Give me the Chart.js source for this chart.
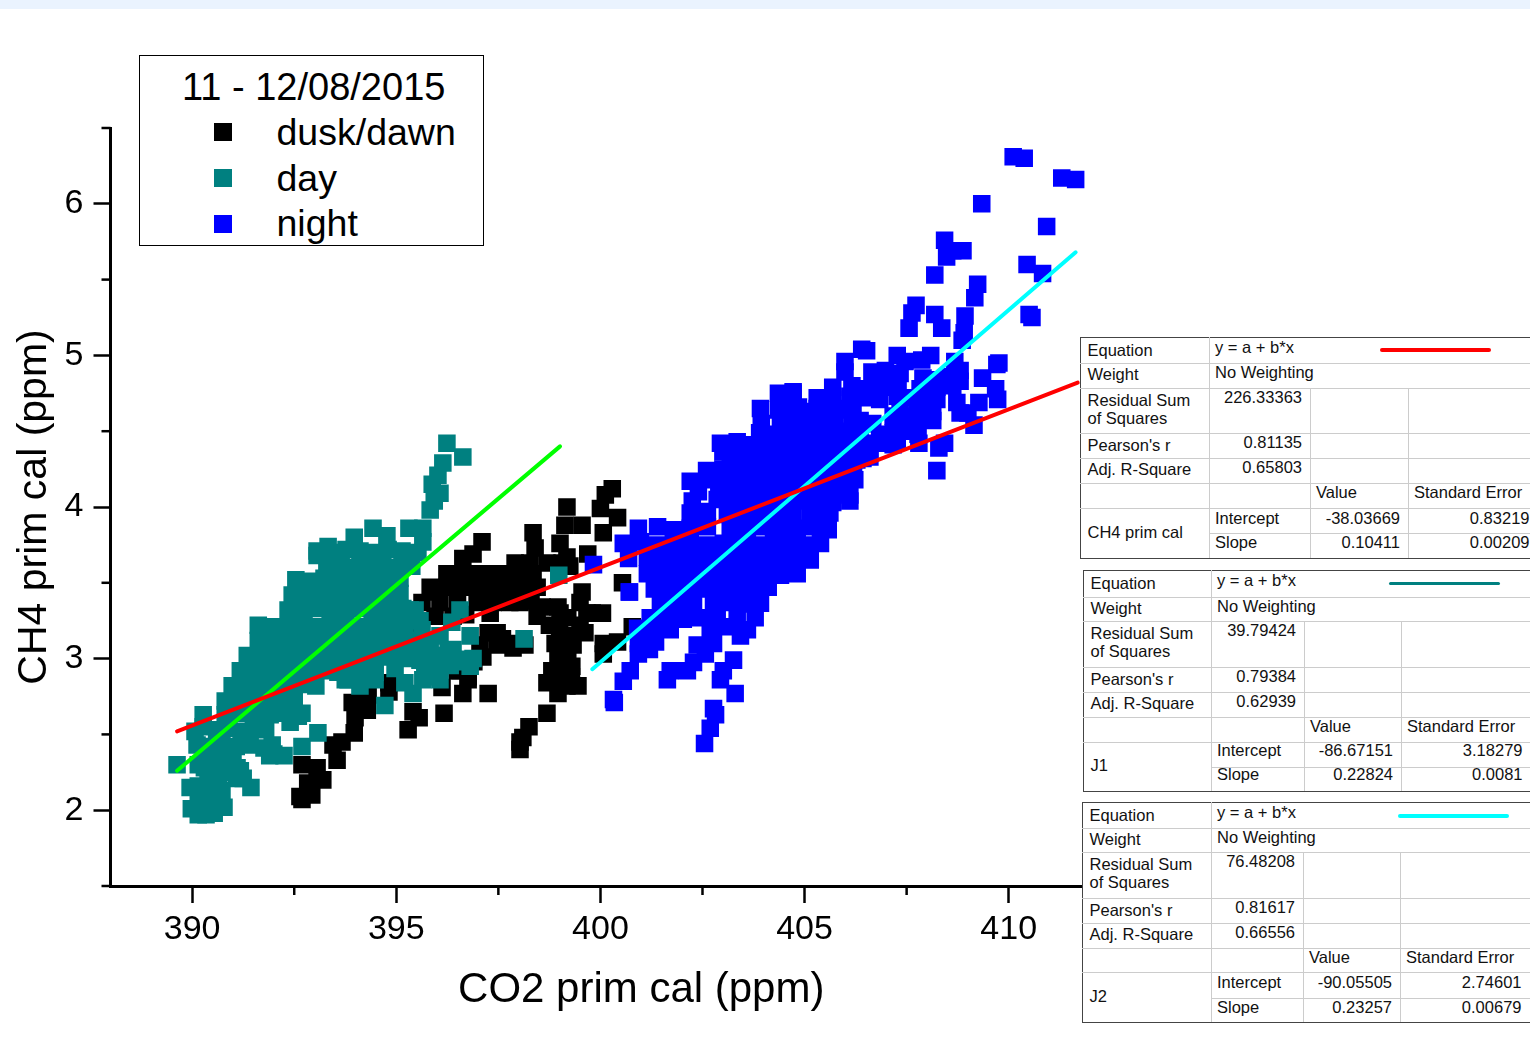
<!DOCTYPE html>
<html><head><meta charset="utf-8">
<script src="https://cdn.jsdelivr.net/npm/chart.js@4"></script>
<style>
html,body{margin:0;padding:0;background:#fff;width:1530px;height:1060px;overflow:hidden;font-family:"Liberation Sans",Arial,sans-serif;color:#000}
#band{position:absolute;left:0;top:0;width:1530px;height:9px;background:#EAF3FE}
#wrap{position:absolute;left:0;top:0;width:1530px;height:1060px}
#legendBox{position:absolute;left:139px;top:55px;width:343px;height:189px;border:1.4px solid #000;background:#fff}
.lg{position:absolute;font-size:37.5px;line-height:46px;white-space:nowrap}
.sw{position:absolute;width:18px;height:18px}
table.fit{position:absolute;border-collapse:collapse;table-layout:fixed;background:#fff;font-size:16.5px;line-height:18px;color:#111}
table.fit td{border:1.4px solid #ccc;padding:0 0 0 5px;vertical-align:top;white-space:nowrap;overflow:visible}
table.fit tr:first-child td{border-top:1.6px solid #444}
table.fit tr:last-child td{border-bottom:1.6px solid #444}
table.fit td:first-child{border-left:1.6px solid #444;padding-left:6.5px}
table.fit td.n{text-align:right;padding:0 8px 0 0}
table.fit td:last-child{border-right:none}
table.fit td.s{border-left:1.4px solid #ccc;padding-left:5px}
table.fit td.nm{vertical-align:middle;border-bottom:1.6px solid #444}
.smp{position:absolute;height:3.8px;border-radius:2px}
</style></head><body>
<div id="band"></div>
<div id="wrap"><canvas id="c" width="1530" height="1060" style="width:1530px;height:1060px;display:block"></canvas></div>
<div id="legendBox"></div>
<script>
const legendTitle = "11 - 12/08/2015";
const seriesNames = ["dusk/dawn","day","night"];
const seriesColors = ["#000000","#008080","#0000FF"];
const xTitle = "CO2 prim cal (ppm)";
const yTitle = "CH4 prim cal (ppm)";
const xTicks = [390,395,400,405,410];
const yTicks = [2,3,4,5,6];
const xMinorTicks = [392.5,397.5,402.5,407.5,412.5];
const yMinorTicks = [1.5,2.5,3.5,4.5,5.5,6.5];

const duskPoints = [
[392.64,2.09],[392.69,2.07],[392.93,2.10],[392.83,2.18],[393.2,2.2],[392.69,2.30],[393.06,2.28],[393.55,2.33],[393.45,2.43],[393.67,2.45],[393.97,2.51],[393.99,2.61],[393.92,2.71],[394.29,2.66],[394.31,2.76],[394.82,2.84],[394.82,2.78],
[395.41,2.65],[395.56,2.61],[395.29,2.53],[396.17,2.64],[397.25,2.77],[396.63,2.77],[396.12,2.81],[396.76,2.86],[396.49,2.92],[396.9,2.98],
[397.1,3.77],[398.35,3.83],[399.18,4.00],[400.29,4.12],[400.12,4.08],[400.0,3.99],[400.42,3.93],[400.07,3.83],[399.55,3.88],[399.13,3.88],[399.01,3.76],[398.4,3.73],[399.69,3.69],[399.18,3.67],[399.25,3.61],
[396.63,3.66],[396.88,3.69],[396.24,3.56],[396.56,3.56],[396.88,3.56],[397.25,3.56],[397.61,3.56],[397.98,3.56],[398.35,3.56],
[395.83,3.47],[396.0,3.44],[396.24,3.47],[396.6,3.47],[396.98,3.47],[397.34,3.47],[397.71,3.47],[398.08,3.47],[398.45,3.47],
[395.63,3.37],[396.07,3.37],[396.5,3.37],[396.98,3.37],[397.37,3.37],[397.78,3.37],[398.03,3.37],[398.3,3.38],
[397.91,3.63],[398.27,3.63],[398.69,3.63],[399.06,3.63],[395.95,3.28],[396.39,3.28],[396.7,3.29],[397.3,3.30],
[399.55,3.44],[399.5,3.37],[398.57,3.34],[398.96,3.34],[398.45,3.28],[399.01,3.30],[400.05,3.30],[399.67,3.30],[399.2,3.27],[399.5,3.22],[399.62,3.17],
[398.75,3.22],[399.0,3.2],[399.3,3.15],[399.1,3.1],[399.1,2.9],[398.9,2.85],[399.3,2.95],
[397.25,3.17],[397.47,3.17],[397.6,3.13],[397.47,3.09],[397.86,3.07],[397.9,3.1],[398.15,3.09],[398.89,3.10],[399.33,3.09],[398.96,2.99],[399.2,2.99],[398.81,2.92],[399.29,2.88],[399.45,2.82],[398.69,2.84],[398.96,2.77],[399.18,2.82],
[398.69,2.64],[398.25,2.55],[398.10,2.48],[398.03,2.40],[398.03,2.45],
[397.05,3.09],[397.12,3.01],[396.39,2.97],[396.76,2.88],[396.56,2.92],[394.92,3.05],[395.46,3.17],
[400.54,3.50],[400.07,3.10],[399.8,3.3],[400.78,3.21],[400.42,3.11],[400.07,3.03]
];
const dayPoints = [
[390.15,1.97],[390.34,1.97],[390.54,1.98],[390.78,2.02],[389.98,2.01],[390.15,2.07],[390.37,2.08],[390.59,2.10],[389.95,2.15],[390.15,2.16],[390.39,2.18],[390.64,2.2],[391.08,2.21],[391.44,2.15],[391.25,2.21],
[390.73,2.13],[390.88,2.25],[391.18,2.26],[390.3,2.28],[390.6,2.27],[390.95,2.29],[391.1,2.28],
[390.3,2.37],[390.66,2.36],[391.0,2.37],[391.9,2.36],[392.0,2.37],
[389.63,2.30],[390.15,2.30],[390.49,2.32],[390.78,2.33],[390.61,2.25],
[390.12,2.43],[390.44,2.42],[390.73,2.44],[391.08,2.42],[391.42,2.43],[391.76,2.41],[391.96,2.43],
[390.07,2.52],[390.27,2.55],[390.6,2.53],[390.9,2.54],[391.2,2.52],[391.5,2.54],[391.8,2.53],
[390.27,2.63],[390.81,2.63],[391.18,2.64],[391.54,2.62],[391.91,2.63],[392.28,2.64],[392.6,2.62],
[390.81,2.72],[391.13,2.71],[391.47,2.73],[391.81,2.72],[392.15,2.71],[392.5,2.72],
[390.98,2.82],[391.32,2.81],[391.66,2.83],[392.01,2.82],[392.35,2.81],[392.69,2.83],[393.03,2.82],
[391.18,2.92],[391.52,2.91],[391.86,2.93],[392.2,2.92],[392.54,2.91],[392.89,2.93],[393.23,2.92],[393.57,2.91],[393.92,2.93],[394.26,2.92],[394.48,2.91],
[391.35,3.02],[391.69,3.01],[392.03,3.03],[392.37,3.02],[392.72,3.01],[393.06,3.03],[393.4,3.02],[393.75,3.01],[394.09,3.03],[394.43,3.02],[394.77,3.01],[394.97,3.03],
[391.62,3.12],[391.96,3.11],[392.3,3.13],[392.64,3.12],[392.99,3.11],[393.33,3.13],[393.67,3.12],[394.01,3.11],[394.36,3.13],[394.7,3.12],[395.04,3.11],
[391.62,3.22],[392.03,3.21],[392.4,3.23],[392.74,3.22],[393.08,3.21],[393.43,3.23],[393.77,3.22],[394.11,3.21],[394.46,3.23],[394.8,3.22],[395.14,3.21],
[392.35,3.32],[392.69,3.31],[393.03,3.33],[393.38,3.32],[393.72,3.31],[394.06,3.33],[394.41,3.32],[394.75,3.31],[395.09,3.33],[395.34,3.32],
[392.45,3.42],[392.79,3.41],[393.13,3.43],[393.48,3.42],[393.82,3.41],[394.16,3.43],[394.51,3.42],[394.85,3.41],[395.09,3.43],
[392.54,3.52],[392.89,3.51],[393.23,3.53],[393.57,3.52],[393.92,3.51],[394.26,3.53],[394.6,3.52],[394.95,3.51],[395.09,3.53],
[393.3,3.61],[393.65,3.62],[393.99,3.60],[394.33,3.61],[394.67,3.62],[395.02,3.60],[395.38,3.61],
[393.06,3.71],[393.43,3.70],[393.77,3.72],[394.11,3.71],[394.46,3.70],[394.8,3.72],[395.14,3.71],[395.53,3.70],
[393.33,3.74],[393.97,3.80],[394.43,3.86],[394.77,3.81],[395.31,3.86],[395.65,3.86],[395.65,3.77],[393.06,3.68],
[395.83,3.98],[395.88,4.15],[396.07,4.09],[396.02,4.21],[396.14,4.29],[396.24,4.42],[396.63,4.33],[395.93,4.04],
[393.82,2.86],[394.48,2.97],[395.21,2.84],[395.41,2.77],[394.72,2.69],[395.65,2.86],[396.02,2.92],[395.34,3.00],[395.7,2.98],[396.43,2.98],[396.8,2.995],
[396.56,3.32],[396.36,3.24],[396.81,3.15],[396.39,3.06],[396.88,3.0],[396.81,2.95],[396.05,2.93],[395.58,3.10],[396.27,3.05],[395.97,2.88],[395.41,3.27],[395.16,3.33],[395.63,3.19],
[395.21,3.02],[395.58,2.99],[395.95,3.02],[396.32,2.955],[396.07,2.86],[395.7,2.91],[394.97,2.935],[395.34,3.12],[395.21,3.22],[395.58,3.25],[395.83,3.12],[396.07,3.15],[395.46,3.32],[394.48,2.86],[394.11,2.82],[393.75,2.86],
[398.13,3.13],[398.98,3.55],
[393.08,2.51],[392.69,2.42],[392.25,2.36],[392.4,2.58],[392.69,2.64]
];
const nightPoints = [
[410.11,6.31],[410.38,6.30],[411.30,6.17],[411.64,6.16],[409.34,6.0],[410.93,5.85],[408.43,5.76],[408.48,5.65],[408.63,5.69],[408.88,5.69],[408.19,5.53],[410.45,5.60],[410.83,5.54],[409.24,5.47],[409.17,5.38],[407.73,5.33],[407.63,5.28],[408.19,5.27],[408.93,5.26],[407.56,5.18],[408.36,5.18],[408.91,5.15],[408.86,5.10],[410.50,5.27],[410.57,5.25],
[406.40,5.04],[406.52,5.03],[405.99,4.96],[407.27,5.0],[407.46,4.96],[407.87,4.97],[408.09,5.0],[408.68,4.96],[409.76,4.95],[409.71,4.94],[405.99,4.89],[409.36,4.85],[409.68,4.78],[409.73,4.71],[409.27,4.69],[408.81,4.90],[408.81,4.83],[408.73,4.69],[409.0,4.62],[408.81,4.62],[409.15,4.54],[408.43,4.42],[408.29,4.39],[408.24,4.24],
[406.65,4.89],[406.98,4.90],[407.34,4.88],[407.90,4.85],[408.24,4.84],[408.56,4.86],[407.0,4.85],
[405.69,4.79],[406.16,4.80],[406.55,4.78],[406.92,4.79],[407.29,4.80],[407.83,4.78],[408.24,4.79],[408.63,4.80],
[404.72,4.75],[405.31,4.72],[405.69,4.71],[406.11,4.73],[406.48,4.72],[406.84,4.71],[407.27,4.73],[407.6,4.72],[407.90,4.72],[408.24,4.71],
[404.58,4.65],[404.97,4.63],[405.39,4.64],[405.79,4.65],[406.18,4.63],[407.17,4.60],[407.34,4.64],[407.55,4.60],[407.76,4.65],[408.0,4.62],[408.14,4.63],
[404.41,4.56],[404.90,4.57],[405.21,4.55],[405.62,4.56],[406.36,4.57],[407.34,4.55],[407.55,4.5],[407.76,4.56],[408.14,4.57],
[404.90,4.48],[405.31,4.47],[405.86,4.49],[406.36,4.48],[406.84,4.47],[407.0,4.48],[407.17,4.49],[407.78,4.48],[407.8,4.42],
[404.41,4.41],[404.68,4.40],[405.07,4.42],[405.79,4.41],[406.28,4.40],[406.67,4.42],[407.17,4.41],
[404.65,4.32],[405.07,4.31],[405.46,4.33],[405.86,4.32],[406.28,4.31],[406.6,4.33],
[404.90,4.23],[405.31,4.22],[405.69,4.24],[406.11,4.23],
[404.82,4.14],[405.21,4.13],[405.62,4.15],[406.03,4.14],
[405.21,4.07],[405.62,4.06],[406.11,4.08],
[404.36,4.75],[404.72,4.76],[403.92,4.65],[404.36,4.64],[404.85,4.66],[405.31,4.65],[405.75,4.64],[406.18,4.66],
[403.94,4.55],[404.46,4.56],[404.85,4.54],[405.31,4.55],[405.75,4.56],[406.18,4.54],[406.67,4.55],
[403.9,4.49],[404.3,4.48],[404.7,4.50],[405.1,4.49],[405.55,4.48],[406.1,4.50],
[402.94,4.42],[403.35,4.43],[403.75,4.41],[404.16,4.42],[404.58,4.43],[405.07,4.41],[405.46,4.42],[405.94,4.43],[406.36,4.41],[406.92,4.42],[407.27,4.43],
[403.0,4.365],[403.4,4.36],[403.8,4.37],[404.2,4.365],[404.6,4.36],[405.0,4.37],[405.4,4.365],[405.8,4.36],[406.2,4.37],[406.6,4.365],
[403.18,4.31],[403.6,4.30],[403.99,4.32],[404.41,4.31],[404.82,4.30],[405.21,4.32],[405.62,4.31],[406.03,4.30],[406.43,4.32],
[402.6,4.24],[403.0,4.25],[403.4,4.23],[403.8,4.24],[404.2,4.25],[404.6,4.23],[405.0,4.24],[405.4,4.25],[405.8,4.23],[406.2,4.24],
[402.2,4.17],[402.62,4.18],[403.01,4.16],[403.43,4.17],[403.84,4.18],[404.24,4.16],[404.65,4.17],[405.07,4.18],[405.46,4.16],[405.86,4.17],[406.23,4.18],
[402.4,4.10],[402.9,4.11],[403.3,4.09],[403.7,4.10],[404.1,4.11],[404.5,4.09],[404.9,4.10],[405.3,4.11],[405.7,4.09],[406.0,4.10],
[402.25,4.04],[402.86,4.05],[403.26,4.03],[403.67,4.04],[404.09,4.05],[404.48,4.03],[404.9,4.04],[405.31,4.05],[405.69,4.03],[406.11,4.04],
[402.2,3.96],[402.62,3.97],[403.11,3.95],[403.5,3.96],[403.92,3.97],[404.33,3.95],[404.72,3.96],[405.14,3.97],[405.56,3.95],[405.62,3.96],
[400.93,3.86],[401.40,3.87],[401.79,3.85],[402.2,3.86],[402.62,3.87],[403.18,3.85],[403.6,3.86],[403.99,3.87],[404.41,3.85],[404.82,3.86],[405.21,3.87],[405.58,3.85],
[400.56,3.76],[400.98,3.77],[401.40,3.75],[401.79,3.76],[402.2,3.77],[402.62,3.75],[403.01,3.76],[403.43,3.77],[403.84,3.75],[404.24,3.76],[404.65,3.77],[405.07,3.75],[405.39,3.76],
[400.69,3.66],[401.15,3.67],[401.54,3.65],[401.96,3.66],[402.37,3.67],[402.77,3.65],[403.18,3.66],[403.6,3.67],[403.99,3.65],[404.41,3.66],[404.82,3.67],[405.14,3.65],
[401.15,3.56],[401.54,3.57],[401.96,3.55],[402.37,3.56],[402.77,3.57],[403.18,3.55],[403.6,3.56],[403.99,3.57],[404.41,3.55],[404.82,3.56],
[401.32,3.46],[401.71,3.47],[402.13,3.45],[402.52,3.46],[402.94,3.47],[403.35,3.45],[403.75,3.46],[404.11,3.47],[400.71,3.44],
[401.47,3.365],[401.88,3.37],[402.28,3.36],[402.77,3.365],[403.18,3.37],[403.6,3.36],[403.92,3.365],
[401.22,3.27],[401.64,3.28],[402.03,3.26],[402.45,3.27],[402.86,3.28],[403.35,3.26],[403.79,3.27],
[400.91,3.20],[401.30,3.21],[401.71,3.19],[402.69,3.20],[403.11,3.21],[403.6,3.19],
[400.93,3.10],[401.35,3.11],[402.37,3.09],[402.77,3.10],[403.43,3.15],
[400.93,3.03],[401.2,3.06],[403.26,2.99],[403.01,2.92],[402.94,2.86],[403.30,2.77],[401.71,2.92],[401.64,2.86],[402.13,2.92],[402.28,2.975],[402.57,3.03],[400.73,2.92],[400.56,2.85],[400.32,2.73],[400.34,2.71],[402.77,2.67],[402.82,2.63],[402.69,2.54],[402.55,2.44],
[399.83,3.62],[400.71,3.44]
];
const fitDuskDawnNight = [[389.63,2.52],[411.69,4.82]];
const fitDay = [[389.63,2.26],[399.01,4.40]];
const fitNight = [[399.80,2.93],[411.64,5.68]];

const fitTables = [
 {left:1080,top:337,cols:[129,101,98,129],rows:[26,25,45,25,25,25,25,25],rss:"226.33363",r:"0.81135",adj:"0.65803",name:"CH4 prim cal",ic:"-38.03669",ice:"0.83219",sl:"0.10411",sle:"0.00209",color:"#FF0000",sx:1380,sy:348,dy:0},
 {left:1083,top:570,cols:[128,93,97,129],rows:[27,24,46,25,25,25,25,24],rss:"39.79424",r:"0.79384",adj:"0.62939",name:"J1",ic:"-86.67151",ice:"3.18279",sl:"0.22824",sle:"0.0081",color:"#008080",sx:1389,sy:581.5,dy:-2},
 {left:1082,top:802,cols:[129,92,97,129],rows:[26,24,46,25,25,24,26,24],rss:"76.48208",r:"0.81617",adj:"0.66556",name:"J2",ic:"-90.05505",ice:"2.74601",sl:"0.23257",sle:"0.00679",color:"#00FFFF",sx:1398,sy:814,dy:0}
];

const pts = a => a.map(p => ({x:p[0], y:p[1]}));
const scatterDs = (label, arr, color, order) => ({label, order, data:pts(arr), backgroundColor:color, borderColor:color, pointStyle:'rect', pointRadius:12.4, pointHoverRadius:12.4, pointBorderWidth:0, showLine:false});
const lineDs = (label, arr, color, order) => ({type:'line', label, order, data:pts(arr), borderColor:color, borderWidth:4, borderCapStyle:'round', pointRadius:0, fill:false, tension:0});

const minorTicks = {id:'minorTicks', afterDatasetsDraw(chart){
  const c = chart.ctx, xs = chart.scales.x, ys = chart.scales.y;
  c.save(); c.strokeStyle='#000'; c.lineWidth=2.5;
  xMinorTicks.forEach(v=>{const p=xs.getPixelForValue(v); c.beginPath(); c.moveTo(p,ys.bottom); c.lineTo(p,ys.bottom+9); c.stroke();});
  yMinorTicks.forEach(v=>{const p=ys.getPixelForValue(v); c.beginPath(); c.moveTo(xs.left,p); c.lineTo(xs.left-9,p); c.stroke();});
  c.restore();
}};

Chart.defaults.font.family = '"Liberation Sans", Arial, sans-serif';
new Chart(document.getElementById('c'), {
  type:'scatter',
  data:{datasets:[
    scatterDs(seriesNames[0], duskPoints, seriesColors[0], 5),
    scatterDs(seriesNames[1], dayPoints, seriesColors[1], 4),
    scatterDs(seriesNames[2], nightPoints, seriesColors[2], 3),
    lineDs('Linear fit day', fitDay, '#00FF00', 2),
    lineDs('Linear fit night', fitNight, '#00FFFF', 1),
    lineDs('Linear fit all', fitDuskDawnNight, '#FF0000', 0)
  ]},
  plugins:[minorTicks],
  options:{
    responsive:false, animation:false, events:[],
    layout:{padding:{left:0,top:128,right:358,bottom:0}},
    plugins:{legend:{display:false},tooltip:{enabled:false}},
    scales:{
      x:{type:'linear',min:388,max:414,
        afterBuildTicks:s=>{s.ticks=xTicks.map(v=>({value:v}));},
        afterFit:s=>{s.height=174;},
        border:{display:true,color:'#000',width:3},
        grid:{drawOnChartArea:false,drawTicks:true,tickLength:17,tickColor:'#000',tickWidth:2.5},
        ticks:{color:'#000',font:{size:34},padding:6,maxRotation:0,autoSkip:false},
        title:{display:true,text:xTitle,color:'#000',font:{size:42},padding:{top:0,bottom:44}}},
      y:{type:'linear',min:1.5,max:6.5,
        afterBuildTicks:s=>{s.ticks=yTicks.map(v=>({value:v}));},
        afterFit:s=>{s.width=110.5;},
        border:{display:true,color:'#000',width:3},
        grid:{drawOnChartArea:false,drawTicks:true,tickLength:17,tickColor:'#000',tickWidth:2.5},
        ticks:{color:'#000',font:{size:34},padding:10,autoSkip:false},
        title:{display:true,text:yTitle,color:'#000',font:{size:41},padding:{top:10,bottom:0}}}
    }
  }
});

// legend
function addLg(txt,l,t,fs){const d=document.createElement('div');d.className='lg';d.textContent=txt;d.style.left=l+'px';d.style.top=t+'px';if(fs)d.style.fontSize=fs+'px';document.body.appendChild(d);}
addLg(legendTitle,182,64,38);
const lgTops=[109,155,200], swTops=[123,169,215];
seriesNames.forEach((n,i)=>{addLg(n,276.5,lgTops[i]);const s=document.createElement('div');s.className='sw';s.style.left='214px';s.style.top=swTops[i]+'px';s.style.background=seriesColors[i];document.body.appendChild(s);});

// stat tables
function pad(t,p){return p>=0?`<div style="padding-top:${p}px">${t}</div>`:`<div style="margin-top:${p}px">${t}</div>`;}
fitTables.forEach(T=>{
  const tb=document.createElement('table');tb.className='fit';
  tb.style.left=T.left+'px';tb.style.top=T.top+'px';tb.style.width=T.cols.reduce((a,b)=>a+b,0)+'px';
  const cg=T.cols.map(w=>`<col style="width:${w}px">`).join('');
  const h=T.rows, d=T.dy;
  tb.innerHTML=`<colgroup>${cg}</colgroup>
  <tr style="height:${h[0]}px"><td>${pad('Equation',3)}</td><td colspan="3">${pad('y = a + b*x',0)}</td></tr>
  <tr style="height:${h[1]}px"><td>${pad('Weight',1)}</td><td colspan="3">${pad('No Weighting',-1)}</td></tr>
  <tr style="height:${h[2]}px"><td>${pad('Residual Sum<br>of Squares',2)}</td><td class="n">${pad(T.rss,-1)}</td><td></td><td></td></tr>
  <tr style="height:${h[3]}px"><td>${pad("Pearson's r",2)}</td><td class="n">${pad(T.r,-1)}</td><td></td><td></td></tr>
  <tr style="height:${h[4]}px"><td>${pad('Adj. R-Square',1)}</td><td class="n">${pad(T.adj,-1)}</td><td></td><td></td></tr>
  <tr style="height:${h[5]}px"><td></td><td></td><td>${pad('Value',-1)}</td><td>${pad('Standard Error',-1)}</td></tr>
  <tr style="height:${h[6]}px"><td rowspan="2" class="nm"><div style="margin-top:-4px">${T.name}</div></td><td>${pad('Intercept',d)}</td><td class="n">${pad(T.ic,d)}</td><td class="n">${pad(T.ice,d)}</td></tr>
  <tr style="height:${h[7]}px"><td class="s">${pad('Slope',d-1)}</td><td class="n">${pad(T.sl,d-1)}</td><td class="n">${pad(T.sle,d-1)}</td></tr>`;
  document.body.appendChild(tb);
  const s=document.createElement('div');s.className='smp';s.style.left=T.sx+'px';s.style.top=T.sy+'px';s.style.width='111px';s.style.background=T.color;document.body.appendChild(s);
});
</script>
</body></html>
